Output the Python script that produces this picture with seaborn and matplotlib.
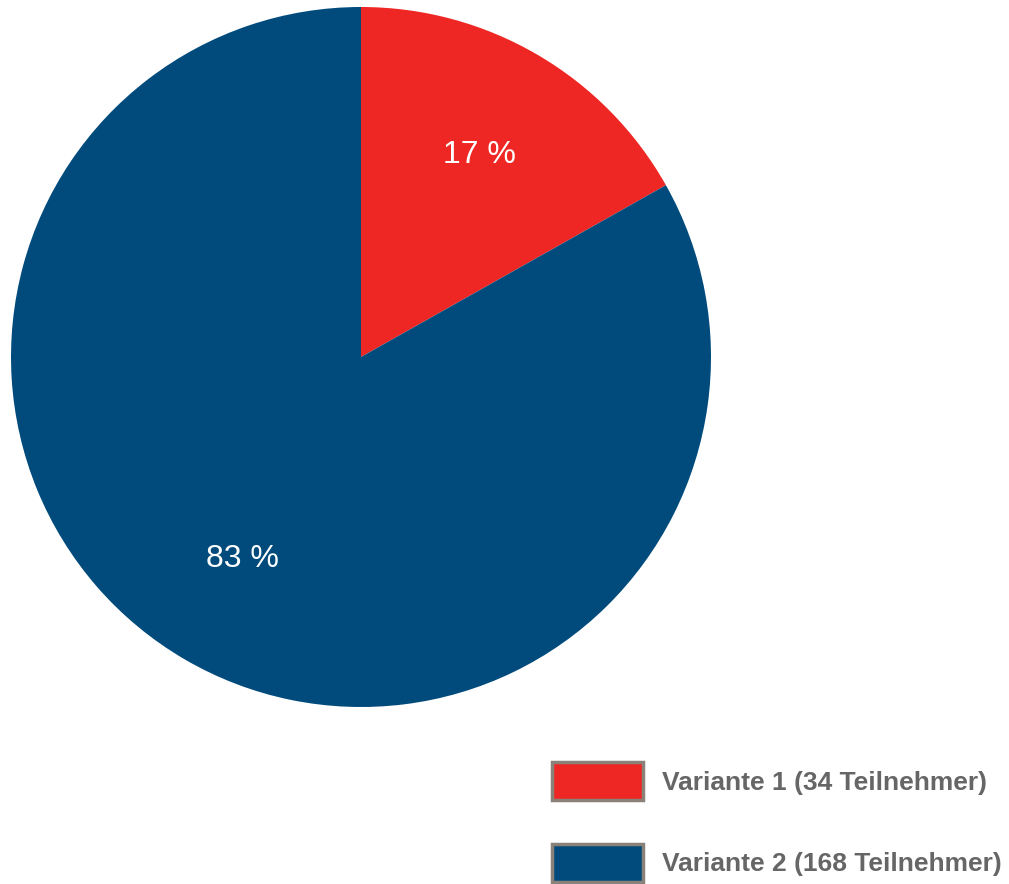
import matplotlib
matplotlib.use('Agg')
import matplotlib.pyplot as plt
from matplotlib.patches import Patch
import numpy as np
import seaborn as sns

sns.set_style('white')
plt.rcParams['font.family'] = ['Liberation Sans', 'DejaVu Sans']

labels = ['Variante 1 (34 Teilnehmer)', 'Variante 2 (168 Teilnehmer)']
counts = [34, 168]
colors = ['#EE2724', '#004B7C']
pct_labels = ['17 %', '83 %']

fig = plt.figure(figsize=(10.09, 8.84), dpi=100)
ax = fig.add_axes([11 / 1009, 177 / 884, 700 / 1009, 700 / 884])

wedges, _ = ax.pie(counts, colors=colors, startangle=90, counterclock=False,
                   radius=1.0, wedgeprops={'linewidth': 0})
ax.set_xlim(-1, 1)
ax.set_ylim(-1, 1)
ax.set_aspect('equal')

# percentage labels placed along the wedge middle
for w, txt in zip(wedges, pct_labels):
    mid = np.deg2rad((w.theta1 + w.theta2) / 2)
    ax.text(0.67 * np.cos(mid), 0.67 * np.sin(mid), txt, color='white',
            fontsize=23, ha='center', va='center')

handles = [Patch(facecolor=c, edgecolor='#8A8178', linewidth=2.5) for c in colors]
fig.legend(handles, labels, loc='upper left',
           bbox_to_anchor=(552 / 1009, 1 - 762 / 884),
           frameon=False,
           prop={'weight': 'bold', 'size': 19},
           labelcolor='#666666',
           handlelength=3.45, handleheight=1.85, handletextpad=0.7,
           labelspacing=1.65, borderpad=0, borderaxespad=0)

fig.savefig('out.png', dpi=100)
